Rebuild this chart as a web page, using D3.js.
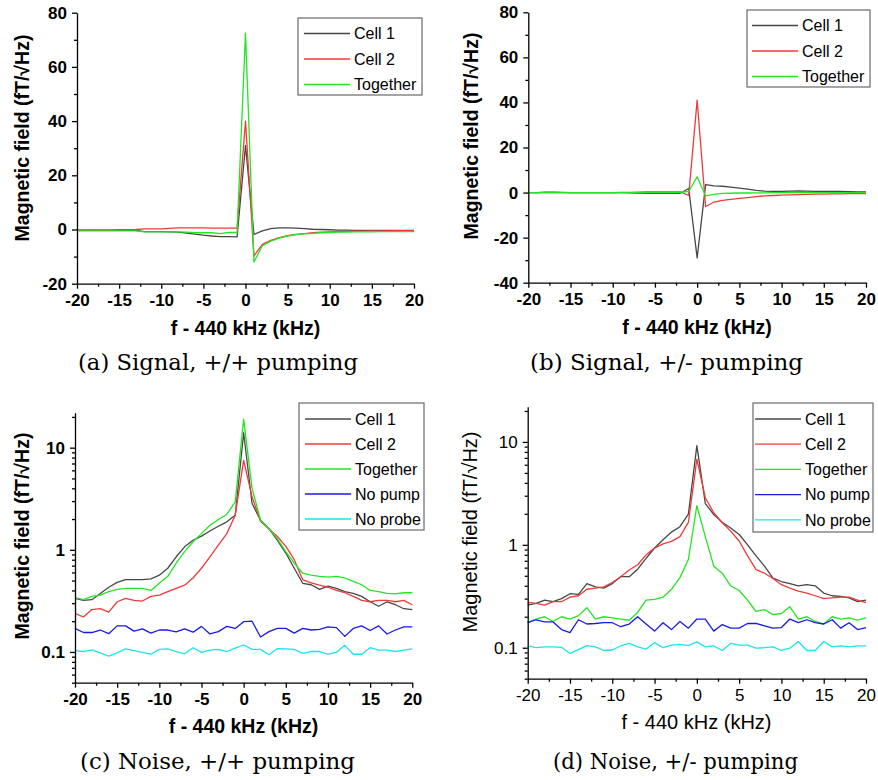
<!DOCTYPE html>
<head>
	<meta charset="utf-8">
	<title>Signal and noise spectra, +/+ and +/- pumping</title>
	<script src="https://cdn.jsdelivr.net/npm/d3@7"></script>
	<style>
		body {
			margin: 0;
			background: white;
		}
		svg text {
			font-family: 'Liberation Sans', Arial, sans-serif;
		}
		svg text.caption {
			font-family: 'DejaVu Serif', serif;
			font-size: 23px;
			font-weight: normal;
		}
	</style>
</head>
<body>
	<script>
		// frequency offset from 440 kHz, in kHz
		var freq = [-20,-19,-18,-17,-16,-15,-14,-13,-12,-11,-10,-9,-8,-7,-6,-5,-4,-3,-2,-1,
			0,1,2,3,4,5,6,7,8,9,10,11,12,13,14,15,16,17,18,19,20];

		var seriesNames = ["Cell 1", "Cell 2", "Together", "No pump", "No probe"];

		// (a) signal, +/+ pumping
		var sigPPcell1 = [-0.2,-0.2,-0.2,-0.2,-0.2,-0.2,-0.2,-0.3,-0.8,-0.8,-0.8,-0.9,-1.0,-1.3,-1.7,-2.1,-2.4,-2.6,-2.6,-2.7,
			31,-1.8,-0.5,0.3,0.6,0.6,0.5,0.3,0.1,0.0,-0.1,-0.2,-0.2,-0.3,-0.3,-0.3,-0.3,-0.3,-0.3,-0.3,-0.3];
		var sigPPcell2 = [-0.2,-0.2,-0.2,-0.2,-0.2,-0.1,-0.1,0.0,0.2,0.2,0.2,0.4,0.6,0.6,0.6,0.6,0.5,0.5,0.5,0.5,
			40,-9.8,-5.5,-4.0,-3.0,-2.3,-1.8,-1.5,-1.2,-1.0,-0.9,-0.8,-0.7,-0.6,-0.6,-0.5,-0.5,-0.5,-0.4,-0.4,-0.4];
		var sigPPboth = [-0.5,-0.5,-0.5,-0.5,-0.5,-0.5,-0.5,-0.5,-0.9,-0.9,-0.9,-0.9,-0.9,-1.0,-1.2,-1.2,-1.2,-1.5,-1.1,-1.1,
			72.5,-12,-6.0,-4.3,-3.2,-2.4,-1.9,-1.6,-1.4,-1.2,-1.1,-1.0,-1.0,-0.9,-0.9,-0.9,-0.8,-0.8,-0.8,-0.8,-0.8];

		// (b) signal, +/- pumping
		var sigPMcell1 = [0,0,0.2,0.2,0.1,0,0,0,0,0,0,0,-0.1,-0.2,-0.4,-0.4,-0.4,-0.4,-0.3,1.8,
			-29,3.5,3.0,2.8,2.4,2.0,1.5,1.0,0.6,0.5,0.5,0.6,0.7,0.6,0.5,0.5,0.5,0.5,0.4,0.3,0.3];
		var sigPMcell2 = [0,0,0,0,0,0,0,0,0,0,0,0.1,0.1,0.2,0.3,0.3,0.3,0.3,0.3,-1.3,
			41,-6.2,-4.2,-3.5,-3.0,-2.6,-2.2,-1.8,-1.5,-1.3,-1.1,-1.0,-0.9,-0.8,-0.7,-0.7,-0.6,-0.6,-0.5,-0.5,-0.5];
		var sigPMboth = [0,0,0,0,0,0,0,0,0,0,0,0,0,0,0,0,0,0,0.1,0.5,
			7,-1.5,-0.8,-0.4,-0.3,-0.2,-0.2,-0.1,-0.1,0,0,0,0,0,0,0,0,0,0,0,0];

		// (c) noise, +/+ pumping
		var noisePPcell1 = [0.334,0.32,0.325,0.374,0.43,0.48,0.51,0.51,0.51,0.52,0.565,0.66,0.855,1.07,1.24,1.36,1.53,1.70,1.88,2.18,
			14,2.84,1.95,1.61,1.24,0.93,0.66,0.47,0.455,0.41,0.44,0.42,0.39,0.375,0.35,0.31,0.28,0.31,0.29,0.265,0.26];
		var noisePPcell2 = [0.239,0.22,0.26,0.265,0.245,0.31,0.334,0.32,0.315,0.35,0.36,0.39,0.42,0.45,0.53,0.66,0.855,1.11,1.44,2.18,
			7.5,3.3,1.9,1.6,1.35,1.08,0.8,0.51,0.475,0.45,0.43,0.40,0.38,0.35,0.32,0.31,0.32,0.32,0.31,0.32,0.29];
		var noisePPboth = [0.34,0.325,0.35,0.36,0.39,0.41,0.42,0.42,0.42,0.40,0.47,0.55,0.74,0.96,1.2,1.44,1.74,1.98,2.22,2.95,
			19,4.0,1.95,1.62,1.28,0.96,0.74,0.59,0.565,0.55,0.54,0.55,0.53,0.49,0.455,0.40,0.39,0.375,0.37,0.38,0.38];
		var noisePPnoPump = [0.17,0.155,0.155,0.164,0.151,0.18,0.18,0.16,0.168,0.153,0.164,0.164,0.157,0.168,0.156,0.178,0.15,0.158,0.178,0.17,
			0.198,0.2,0.14,0.158,0.17,0.17,0.153,0.17,0.164,0.166,0.176,0.173,0.142,0.17,0.18,0.162,0.18,0.15,0.164,0.176,0.176];
		var noisePPnoProbe = [0.103,0.101,0.105,0.098,0.091,0.098,0.107,0.103,0.099,0.095,0.106,0.107,0.101,0.096,0.110,0.099,0.104,0.106,0.101,0.109,
			0.117,0.106,0.106,0.094,0.108,0.107,0.106,0.097,0.101,0.101,0.095,0.099,0.116,0.095,0.095,0.11,0.104,0.104,0.101,0.104,0.107];

		// (d) noise, +/- pumping
		var noisePMcell1 = [0.26,0.27,0.29,0.28,0.30,0.335,0.33,0.42,0.39,0.38,0.42,0.49,0.49,0.58,0.74,0.93,1.12,1.33,1.5,1.99,
			9.2,2.52,1.97,1.66,1.46,1.26,1.0,0.78,0.62,0.475,0.44,0.42,0.40,0.41,0.40,0.34,0.32,0.315,0.305,0.28,0.29];
		var noisePMcell2 = [0.276,0.27,0.26,0.28,0.28,0.31,0.32,0.37,0.38,0.39,0.43,0.49,0.57,0.64,0.8,0.93,1.02,1.08,1.2,1.65,
			6.8,2.87,2.05,1.64,1.36,1.09,0.78,0.575,0.53,0.47,0.41,0.38,0.355,0.34,0.32,0.30,0.305,0.31,0.31,0.29,0.275];
		var noisePMboth = [0.175,0.19,0.20,0.18,0.20,0.19,0.205,0.245,0.19,0.20,0.195,0.19,0.185,0.22,0.29,0.295,0.31,0.37,0.48,0.72,
			2.4,1.2,0.62,0.53,0.40,0.36,0.29,0.225,0.235,0.21,0.215,0.25,0.19,0.2,0.18,0.17,0.2,0.19,0.195,0.185,0.195];
		var noisePMnoPump = [0.175,0.187,0.178,0.178,0.15,0.14,0.187,0.17,0.172,0.175,0.175,0.16,0.17,0.2,0.17,0.145,0.175,0.15,0.18,0.155,
			0.19,0.19,0.145,0.168,0.155,0.155,0.172,0.172,0.163,0.155,0.157,0.19,0.175,0.187,0.175,0.17,0.187,0.155,0.175,0.15,0.157];
		var noisePMnoProbe = [0.104,0.1,0.102,0.102,0.101,0.088,0.096,0.105,0.102,0.094,0.095,0.104,0.11,0.102,0.097,0.112,0.1,0.106,0.108,0.105,
			0.114,0.102,0.104,0.094,0.11,0.106,0.106,0.099,0.1,0.102,0.094,0.099,0.115,0.094,0.094,0.115,0.102,0.104,0.102,0.104,0.104];

		var xMajor = [-20,-15,-10,-5,0,5,10,15,20];
		var xMinor = [-17.5,-12.5,-7.5,-2.5,2.5,7.5,12.5,17.5];
		var logMajor = [0.1,1,10];
		var logMinor = [0.05,0.06,0.07,0.08,0.09,0.2,0.3,0.4,0.5,0.6,0.7,0.8,0.9,2,3,4,5,6,7,8,9,20];

		var colors = ["#474747", "#f03a3a", "#22e622", "#1818f0", "#18e4ee"];

		var width = 878;
		var height = 780;

		var svg = d3.select("body")
			.append("svg")
			.attr("width", width)
			.attr("height", height);

		var panels = [
			{ series: [sigPPcell1, sigPPcell2, sigPPboth], log: false, yDomain: [-20, 80],
				yMajor: [-20,0,20,40,60,80], yMinor: [-10,10,30,50,70],
				left: 77, right: 414, top: 12.7, bottom: 283.7, bold: true,
				yTitle: [29, 138], xTitle: [245.5, 335],
				legend: { x: 298, y: 18, w: 124, h: 77, row0: 15.5, step: 25.5, lx: 6, tx: 56 },
				caption: "(a) Signal, +/+ pumping", cap: [78, 370, 280] },
			{ series: [sigPMcell1, sigPMcell2, sigPMboth], log: false, yDomain: [-40, 80],
				yMajor: [-40,-20,0,20,40,60,80], yMinor: [-30,-10,10,30,50,70],
				left: 528.3, right: 866, top: 12.3, bottom: 282.7, bold: true,
				yTitle: [478, 136], xTitle: [697, 334],
				legend: { x: 747, y: 10, w: 123, h: 77, row0: 15.5, step: 25.5, lx: 5, tx: 55 },
				caption: "(b) Signal, +/- pumping", cap: [530, 370, 273] },
			{ series: [noisePPcell1, noisePPcell2, noisePPboth, noisePPnoPump, noisePPnoProbe], log: true, yDomain: [0.05, 22],
				yMajor: logMajor, yMinor: logMinor,
				left: 75, right: 412.3, top: 412.7, bottom: 682.7, bold: true,
				yTitle: [29, 536], xTitle: [243.5, 733],
				legend: { x: 299, y: 403, w: 125, h: 127, row0: 16, step: 25, lx: 6, tx: 56 },
				caption: "(c) Noise, +/+ pumping", cap: [80, 769, 275] },
			{ series: [noisePMcell1, noisePMcell2, noisePMboth, noisePMnoPump, noisePMnoProbe], log: true, yDomain: [0.05, 22],
				yMajor: logMajor, yMinor: logMinor,
				left: 527.7, right: 866, top: 406.7, bottom: 678.7, bold: false,
				yTitle: [477, 532], xTitle: [696.5, 729],
				legend: { x: 753, y: 403, w: 120, h: 129, row0: 16, step: 25.2, lx: 2, tx: 52 },
				caption: "(d) Noise, +/- pumping", cap: [553, 769, 245] }
		];

		panels.forEach(drawPanel);

		function drawPanel(p) {
			var x = d3.scaleLinear().domain([-20, 20]).range([p.left, p.right]);
			var y = (p.log ? d3.scaleLog() : d3.scaleLinear())
				.domain(p.yDomain)
				.range([p.bottom, p.top]);

			var g = svg.append("g")
				.attr("font-weight", p.bold ? "bold" : "normal");

			var line = d3.line()
				.x(function(d, i) { return x(freq[i]); })
				.y(function(d) { return y(d); });

			// curves, first series at the bottom
			p.series.forEach(function(s, k) {
				g.append("path")
					.attr("d", line(s))
					.attr("fill", "none")
					.attr("stroke", colors[k])
					.attr("stroke-width", 1.3)
					.attr("stroke-linejoin", "round");
			});

			// axes: major with labels, minor without
			var fmt = function(d) { return String(d); };
			g.append("g")
				.attr("transform", "translate(0," + p.bottom + ")")
				.call(d3.axisBottom(x).tickValues(xMajor).tickFormat(fmt)
					.tickSize(5).tickSizeOuter(0).tickPadding(5));
			g.append("g")
				.attr("transform", "translate(0," + p.bottom + ")")
				.call(d3.axisBottom(x).tickValues(xMinor).tickFormat("")
					.tickSize(3).tickSizeOuter(0))
				.select(".domain").remove();

			g.append("g")
				.attr("transform", "translate(" + p.left + ",0)")
				.call(d3.axisLeft(y).tickValues(p.yMajor).tickFormat(fmt)
					.tickSize(5).tickSizeOuter(0).tickPadding(5));
			g.append("g")
				.attr("transform", "translate(" + p.left + ",0)")
				.call(d3.axisLeft(y).tickValues(p.yMinor).tickFormat("")
					.tickSize(3).tickSizeOuter(0))
				.select(".domain").remove();

			g.selectAll(".domain, .tick line")
				.attr("stroke", "black")
				.attr("stroke-width", 1.3);
			g.selectAll("g").attr("font-family", null).attr("font-size", null);
			g.selectAll(".tick text")
				.attr("fill", "black")
				.style("font-size", "17px");

			// axis titles
			g.append("text")
				.attr("transform", "translate(" + p.yTitle[0] + "," + p.yTitle[1] + ") rotate(-90)")
				.attr("text-anchor", "middle")
				.style("font-size", p.bold ? "19.5px" : "20px")
				.text("Magnetic field (fT/\u221AHz)");
			g.append("text")
				.attr("x", p.xTitle[0])
				.attr("y", p.xTitle[1])
				.attr("text-anchor", "middle")
				.style("font-size", p.bold ? "19.5px" : "20px")
				.text("f - 440 kHz (kHz)");

			// legend
			var L = p.legend;
			var lg = svg.append("g");
			lg.append("rect")
				.attr("x", L.x).attr("y", L.y)
				.attr("width", L.w).attr("height", L.h)
				.attr("fill", "white")
				.attr("stroke", "#6a6a6a")
				.attr("stroke-width", 1.2);
			p.series.forEach(function(s, k) {
				var yy = L.y + L.row0 + k * L.step;
				lg.append("line")
					.attr("x1", L.x + L.lx).attr("x2", L.x + L.lx + 46)
					.attr("y1", yy).attr("y2", yy)
					.attr("stroke", colors[k])
					.attr("stroke-width", 1.3);
				lg.append("text")
					.attr("x", L.x + L.tx)
					.attr("y", yy)
					.attr("dy", "0.36em")
					.style("font-size", "16px")
					.text(seriesNames[k]);
			});

			// caption under the panel
			svg.append("text")
				.attr("class", "caption")
				.attr("x", p.cap[0])
				.attr("y", p.cap[1])
				.attr("textLength", p.cap[2])
				.attr("lengthAdjust", "spacingAndGlyphs")
				.text(p.caption);
		}
	</script>
</body>
